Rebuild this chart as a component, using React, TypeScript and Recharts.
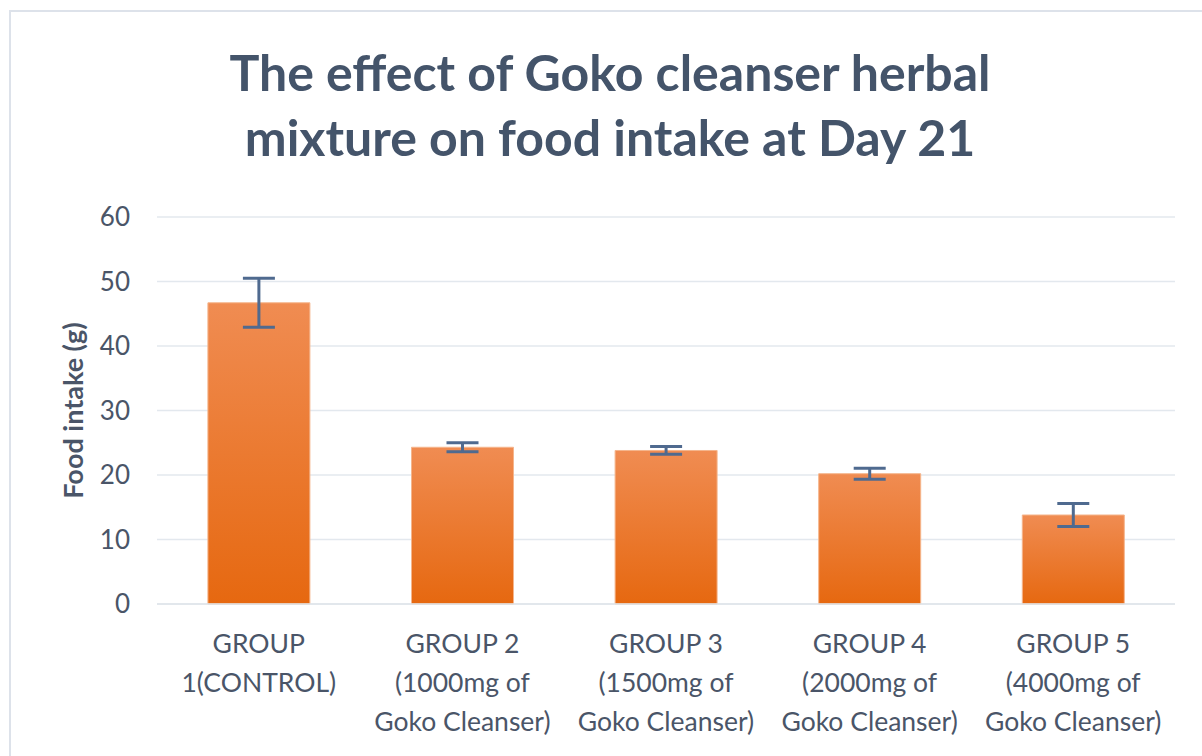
import React from 'react';
import { BarChart, Bar, XAxis, YAxis, CartesianGrid, ErrorBar } from 'recharts';

const categories = [
  'GROUP\n1(CONTROL)',
  'GROUP 2\n(1000mg of\nGoko Cleanser)',
  'GROUP 3\n(1500mg of\nGoko Cleanser)',
  'GROUP 4\n(2000mg of\nGoko Cleanser)',
  'GROUP 5\n(4000mg of\nGoko Cleanser)',
];
const intake = [46.7, 24.3, 23.8, 20.2, 13.8];
const errors = [3.8, 0.7, 0.6, 0.85, 1.8];
const yTicks = [0, 10, 20, 30, 40, 50, 60];
const titleLines = ['The effect of Goko cleanser herbal', 'mixture on food intake at Day 21'];

const data = categories.map((c, i) => ({ name: c, value: intake[i], err: errors[i] }));

const FONT = 'Lato, "Open Sans", sans-serif';
const TEXT = '#4a5568';

const XTick = (props: any) => {
  const { x, y, payload } = props;
  const lines = String(payload.value).split('\n');
  return (
    <g>
      {lines.map((l: string, i: number) => (
        <text key={i} x={x} y={y + 41 + i * 39} textAnchor="middle" fill={TEXT} fontSize={26.5} fontFamily={FONT}>
          {l}
        </text>
      ))}
    </g>
  );
};

const YLabel = (props: any) => {
  const vb = props.viewBox || {};
  const cx = vb.x - 25;
  const cy = vb.y + vb.height / 2;
  return (
    <text x={cx} y={cy} transform={`rotate(-90 ${cx} ${cy})`} textAnchor="middle" dominantBaseline="central" fill={TEXT} fontSize={27} fontWeight={700} fontFamily={FONT}>
      Food intake (g)
    </text>
  );
};

export default function App() {
  return (
    <div style={{ position: 'absolute', left: 0, top: 0, width: 1202, height: 756, overflow: 'hidden', background: '#fff' }}>
      <div style={{ position: 'absolute', left: 9, top: 10, width: 1400, height: 1000, border: '2px solid #dde2ea', boxSizing: 'border-box' }} />
      <div style={{ position: 'absolute', left: 0, top: 40, width: 1220, textAlign: 'center', fontFamily: FONT, fontWeight: 700, fontSize: 50, color: '#44546a', lineHeight: '65px' }}>
        {titleLines.map((t, i) => (
          <div key={i}>{t}</div>
        ))}
      </div>
      <div style={{ position: 'absolute', left: 0, top: 0 }}>
        <BarChart width={1202} height={756} data={data} margin={{ top: 217, right: 27, bottom: 0, left: 97 }} barCategoryGap="25%">
          <defs>
            <linearGradient id="barGrad" x1="0" y1="0" x2="0" y2="1">
              <stop offset="0%" stopColor="#f08c52" />
              <stop offset="100%" stopColor="#e66810" />
            </linearGradient>
          </defs>
          <CartesianGrid vertical={false} stroke="#e3e8ee" strokeWidth={1.5} />
          <XAxis dataKey="name" tick={<XTick />} tickLine={false} axisLine={{ stroke: '#dfe4ea', strokeWidth: 1.5 }} interval={0} height={152} />
          <YAxis domain={[0, 60]} ticks={yTicks} width={60} tickSize={0} tickMargin={27} axisLine={false} tickLine={false}
            tick={{ fill: TEXT, fontSize: 26, fontFamily: FONT }} label={<YLabel />} />
          <Bar dataKey="value" fill="url(#barGrad)" stroke="#f5b58c" strokeWidth={1} isAnimationActive={false}>
            <ErrorBar dataKey="err" width={16} stroke="#4f6a8f" strokeWidth={3} direction="y" />
          </Bar>
        </BarChart>
      </div>
    </div>
  );
}
